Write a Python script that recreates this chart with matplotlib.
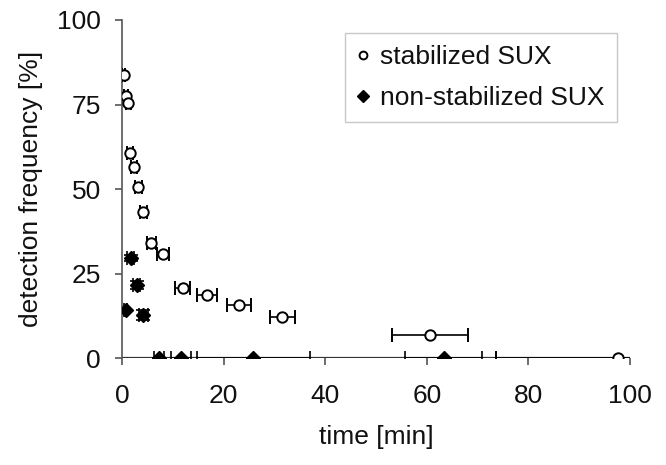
import matplotlib
matplotlib.use("Agg")
import matplotlib.pyplot as plt
import numpy as np

plt.rcParams['font.family'] = ['Liberation Sans', 'DejaVu Sans']

## stabilized SUX (open circles)
t_stab = [0.4, 0.8, 1.3, 1.6, 2.4, 3.2, 4.2, 5.8, 8.1, 12.0, 16.7, 23.0, 31.6, 60.7, 97.6]
f_stab = [83.7, 77.4, 75.5, 60.7, 56.6, 50.7, 43.3, 33.9, 30.8, 20.7, 18.6, 15.7, 12.1, 6.8, 0.0]
terr_stab = [0.3, 0.4, 0.5, 0.6, 0.6, 0.7, 0.7, 0.9, 1.2, 1.5, 2.0, 2.4, 2.5, 7.5, 24.0]

## non-stabilized SUX (filled diamonds)
t_non = [0.8, 1.7, 2.9, 4.2, 7.3, 11.6, 25.9, 63.3]
f_non = [14.2, 29.6, 21.6, 12.7, 0.0, 0.0, 0.0, 0.0]
terr_non = [0.3, 0.6, 0.7, 0.9, 0.9, 2.0, 11.1, 7.6]
ferr_non = [0.0, 1.0, 1.2, 1.5, 0.0, 0.0, 0.0, 0.0]

fig = plt.figure(figsize=(6.66, 4.65), dpi=100)
ax = fig.add_axes([0.183, 0.230, 0.763, 0.727])

ax.axhline(0, color='#333333', lw=1.6, zorder=1)

ax.errorbar(t_non, f_non, xerr=terr_non, yerr=ferr_non, fmt='D', ms=7.5,
            mfc='black', mec='black', ecolor='black', elinewidth=1.2,
            capsize=5, capthick=1.2, label='non-stabilized SUX', zorder=3)
ax.errorbar(t_stab, f_stab, xerr=terr_stab, fmt='o', ms=7.5,
            mfc='white', mec='black', mew=1.4, ecolor='black', elinewidth=1.2,
            capsize=5, capthick=1.2, label='stabilized SUX', zorder=4)

ax.set_xlim(0, 100)
ax.set_ylim(0, 100)
ax.set_xticks([0, 20, 40, 60, 80, 100])
ax.set_yticks([0, 25, 50, 75, 100])
ax.tick_params(labelsize=19, direction='out', length=5, color='#555555', width=1.2,
               labelcolor='#111111')
ax.tick_params(axis='x', pad=14)
ax.tick_params(axis='y', pad=10)

for s in ['top', 'right', 'bottom']:
    ax.spines[s].set_visible(False)
ax.spines['left'].set_color('#555555')
ax.spines['left'].set_linewidth(1.2)

ax.set_xlabel('time [min]', fontsize=19, labelpad=12, color='#111111')
ax.set_ylabel('detection frequency [%]', fontsize=19, labelpad=10, color='#111111')

h, l = ax.get_legend_handles_labels()
h = [hh[0] for hh in h]
leg = ax.legend(h[::-1], l[::-1], loc='upper right', bbox_to_anchor=(1.0, 1.0),
                fontsize=19, frameon=True, fancybox=False, edgecolor='#bbbbbb',
                markerscale=0.75, handlelength=0.5, handletextpad=0.4,
                labelspacing=0.64, borderpad=0.45, borderaxespad=0.5)
leg.get_frame().set_linewidth(1.0)
for t in leg.get_texts():
    t.set_color('#111111')

fig.savefig('out.png', dpi=100)
